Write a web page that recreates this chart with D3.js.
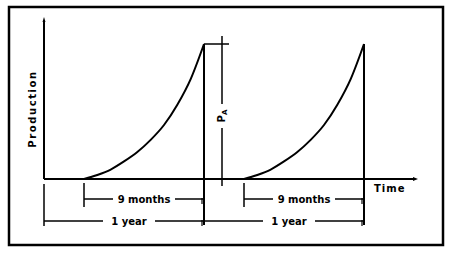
<!DOCTYPE html>
<html>
<head>
<meta charset="utf-8">
<script src="https://cdn.jsdelivr.net/npm/d3@7"></script>
<style>
  body { margin: 0; background: #fff; }
  svg text { font-family: "DejaVu Sans", sans-serif; font-weight: bold; fill: #000; }
</style>
</head>
<body>
<div id="chart"></div>
<script>
// months since the start of one growth period, and production (fraction of peak P_A)
var growthMonths = [0, 1, 2, 3, 4, 5, 6, 7, 8, 9];
var production = [0, 0.03, 0.07, 0.13, 0.2, 0.29, 0.4, 0.55, 0.74, 1.0];
// each period starts 3 months into its year and ends at the year's end
var periodStarts = [3, 15];
var yearEnds = [12, 24];
var labels = { growth: "9 months", year: "1 year", yAxis: "Production", xAxis: "Time" };

var width = 450, height = 253;

var svg = d3.select("#chart").append("svg")
  .attr("width", width)
  .attr("height", height);

var x = d3.scaleLinear().domain([0, 24]).range([44, 364]);
var y = d3.scaleLinear().domain([0, 1]).range([179, 44]);

// frame
svg.append("rect")
  .attr("x", 9).attr("y", 7)
  .attr("width", 434).attr("height", 238)
  .attr("fill", "none").attr("stroke", "#000").attr("stroke-width", 2.5);

function line(x1, y1, x2, y2, w) {
  svg.append("line")
    .attr("x1", x1).attr("y1", y1).attr("x2", x2).attr("y2", y2)
    .attr("stroke", "#000").attr("stroke-width", w || 1.5);
}

// axes
line(x(0), y(0), x(0), 20, 2);
line(x(0), y(0), 413, y(0), 2);
svg.append("path")
  .attr("d", "M413," + (y(0) - 2) + " L418," + y(0) + " L413," + (y(0) + 2) + "Z")
  .attr("fill", "#000");
svg.append("path")
  .attr("d", "M" + (x(0) - 1.5) + ",22 L" + x(0) + ",17 L" + (x(0) + 1.5) + ",22Z")
  .attr("fill", "#000");

svg.append("text")
  .attr("transform", "translate(36,109) rotate(-90)")
  .attr("text-anchor", "middle")
  .attr("font-size", 10)
  .attr("letter-spacing", 1.6)
  .text(labels.yAxis);

svg.append("text")
  .attr("x", 374).attr("y", 192)
  .attr("font-size", 10)
  .attr("letter-spacing", 1)
  .text(labels.xAxis);

// growth curves
var curve = d3.line()
  .x(function(d) { return d[0]; })
  .y(function(d) { return d[1]; })
  .curve(d3.curveMonotoneX);

periodStarts.forEach(function(start, k) {
  var pts = growthMonths.map(function(m, i) { return [x(start + m), y(production[i])]; });
  svg.append("path")
    .attr("d", curve(pts))
    .attr("fill", "none")
    .attr("stroke", "#000")
    .attr("stroke-width", 2);

  var end = yearEnds[k];
  var yearStart = end - 12;
  // drop line from the peak
  line(x(end), y(1), x(end), 225, 2);

  // 9 months dimension
  var gy = 199;
  line(x(start), 183, x(start), 207, 1.5);
  var gMid = (x(start) + x(end)) / 2;
  line(x(start), gy, gMid - 31, gy);
  line(gMid + 31, gy, x(end), gy);
  line(x(end) - 2, gy - 1, x(end) - 2, gy + 5, 1.2);
  svg.append("text")
    .attr("x", gMid).attr("y", gy + 3.5)
    .attr("text-anchor", "middle")
    .attr("font-size", 10)
    .text(labels.growth);

  // 1 year dimension
  var yy = 221;
  if (k === 0) line(x(yearStart), 184, x(yearStart), 226, 1.5);
  var yMid = (x(yearStart) + x(end)) / 2 + 5;
  line(x(yearStart), yy, yMid - 26, yy);
  line(yMid + 26, yy, x(end), yy);
  line(x(end) - 2, yy - 1, x(end) - 2, yy + 5, 1.2);
  svg.append("text")
    .attr("x", yMid).attr("y", yy + 3.5)
    .attr("text-anchor", "middle")
    .attr("font-size", 10)
    .text(labels.year);
});

// P_A dimension
var px = 222;
line(x(12), y(1), 229, y(1));
line(px, 36, px, 104);
line(px, 128, px, 186);
var pa = svg.append("text")
  .attr("transform", "translate(" + (px + 3) + ",116) rotate(-90)")
  .attr("text-anchor", "middle")
  .attr("font-size", 10);
pa.append("tspan").text("P");
pa.append("tspan").attr("font-size", 7).attr("dy", 2).text("A");
</script>
</body>
</html>
